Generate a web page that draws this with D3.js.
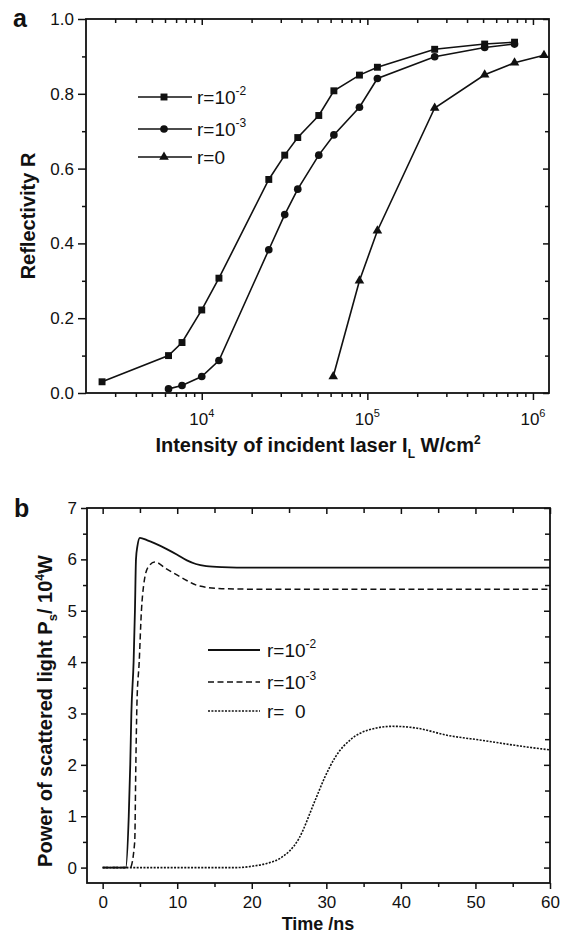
<!DOCTYPE html>
<html>
<head>
<meta charset="utf-8">
<script src="https://cdn.jsdelivr.net/npm/d3@7"></script>
<style>
	body { margin: 0; background: #fff; }
	svg text { font-family: "Liberation Sans", Arial, sans-serif; fill: #111; }
</style>
</head>
<body>
<svg id="fig" width="564" height="937"></svg>
<script>
// ---- panel a : reflectivity vs laser intensity ----
var intensity2 = [2500, 6300, 7600, 10000, 12700, 25400, 31700, 38000, 50900, 62800, 89600, 115000, 255000, 511000, 774000];
var refl2      = [0.03, 0.10, 0.135, 0.222, 0.307, 0.571, 0.636, 0.683, 0.742, 0.808, 0.85, 0.871, 0.919, 0.933, 0.938];
var intensity3 = [6300, 7600, 10000, 12700, 25400, 31700, 38000, 50900, 62800, 89600, 115000, 255000, 511000, 774000];
var refl3      = [0.011, 0.02, 0.044, 0.087, 0.383, 0.477, 0.545, 0.636, 0.69, 0.764, 0.841, 0.899, 0.924, 0.933];
var intensity0 = [62200, 89600, 115000, 255000, 511000, 774000, 1166000];
var refl0      = [0.044, 0.30, 0.434, 0.762, 0.851, 0.883, 0.903];
var decadeTicks = [1e4, 1e5, 1e6];
var decadeExp   = ["4", "5", "6"];
var reflTicks   = [0, 0.2, 0.4, 0.6, 0.8, 1.0];
var legendA     = [["r=10", "-2"], ["r=10", "-3"], ["r=0", ""]];

// ---- panel b : scattered power vs time ----
var time2  = [0, 3.1, 3.5, 3.7, 3.85, 4.15, 4.33, 4.47, 4.65, 5.0, 6, 7, 8.6, 10, 11.3, 12.5, 13.9, 16, 20, 30, 40, 50, 60];
var power2 = [0, 0, 1, 2, 3, 4, 5, 6, 6.25, 6.42, 6.37, 6.31, 6.2, 6.09, 5.98, 5.91, 5.87, 5.85, 5.84, 5.84, 5.84, 5.84, 5.84];
var time3  = [0, 3.7, 4.3, 4.45, 4.6, 4.9, 5.2, 5.5, 6.1, 7.0, 8.5, 10.4, 13.0, 16, 20, 30, 40, 50, 60];
var power3 = [0, 0, 0.5, 2, 3.2, 4, 5, 5.5, 5.85, 5.95, 5.82, 5.66, 5.48, 5.43, 5.42, 5.42, 5.42, 5.42, 5.42];
var time0  = [0, 10, 18, 20.2, 22, 23.8, 26.3, 28.5, 29.8, 31.2, 33.4, 35.7, 38.8, 41.9, 46.4, 50.8, 55.3, 60];
var power0 = [0, 0, 0, 0.03, 0.08, 0.18, 0.56, 1.31, 1.76, 2.15, 2.51, 2.68, 2.75, 2.72, 2.57, 2.48, 2.38, 2.29];
var timeTicks  = [0, 10, 20, 30, 40, 50, 60];
var powerTicks = [0, 1, 2, 3, 4, 5, 6, 7];
var legendB    = [["r=10", "-2"], ["r=10", "-3"], ["r=  0", ""]];

var svg = d3.select("#fig");
var ink = "#111";

// draws one axis and strips the domain line, frame is drawn as a rect
function axis(g, gen, size, values, fmt, pad) {
	g.call(gen.tickValues(values).tickSize(size).tickPadding(pad || 3).tickFormat(fmt || ""))
		.attr("font-size", 17)
		.attr("font-family", "'Liberation Sans', Arial, sans-serif");
	g.select(".domain").remove();
	g.selectAll(".tick line").attr("stroke", ink).attr("stroke-width", 1.5);
	return g;
}

// ================= panel a =================
var xA = d3.scaleLog().domain([2000, 1.25e6]).range([86, 549]);
var yA = d3.scaleLinear().domain([0, 1]).range([393, 19]);

var minorA = [];
[1e3, 1e4, 1e5].forEach(function (d) {
	for (var k = 2; k <= 9; k++) if (k * d > 2000) minorA.push(k * d);
});
var reflMinor = [0.1, 0.3, 0.5, 0.7, 0.9];

var gA = svg.append("g");
axis(gA.append("g").attr("transform", "translate(0,393)"), d3.axisBottom(xA), 7, decadeTicks);
axis(gA.append("g").attr("transform", "translate(0,393)"), d3.axisBottom(xA), 4, minorA);
axis(gA.append("g").attr("transform", "translate(0,19)"), d3.axisBottom(xA), 6, decadeTicks);
axis(gA.append("g").attr("transform", "translate(0,19)"), d3.axisBottom(xA), 4, minorA);
axis(gA.append("g").attr("transform", "translate(86,0)"), d3.axisLeft(yA), 8, reflTicks, d3.format(".1f"), 4);
axis(gA.append("g").attr("transform", "translate(86,0)"), d3.axisLeft(yA), 4, reflMinor);
axis(gA.append("g").attr("transform", "translate(549,0)"), d3.axisLeft(yA), 6, reflTicks);
axis(gA.append("g").attr("transform", "translate(549,0)"), d3.axisLeft(yA), 4, reflMinor);

// 10^n labels
decadeTicks.forEach(function (d, i) {
	var t = gA.append("text").attr("x", xA(d)).attr("y", 425)
		.attr("text-anchor", "middle").attr("font-size", 17);
	t.append("tspan").text("10");
	t.append("tspan").attr("font-size", 11).attr("dy", -8).text(decadeExp[i]);
});

gA.append("rect").attr("x", 86).attr("y", 19).attr("width", 463).attr("height", 374)
	.attr("fill", "none").attr("stroke", ink).attr("stroke-width", 1.8);

var lineA = d3.line().x(function (d) { return xA(d[0]); }).y(function (d) { return yA(d[1]); });
var seriesA = [
	{ x: intensity2, y: refl2, sym: d3.symbolSquare, size: 48 },
	{ x: intensity3, y: refl3, sym: d3.symbolCircle, size: 46 },
	{ x: intensity0, y: refl0, sym: d3.symbolTriangle, size: 40 }
];
seriesA.forEach(function (s) {
	var pts = d3.zip(s.x, s.y);
	gA.append("path").attr("d", lineA(pts)).attr("fill", "none")
		.attr("stroke", ink).attr("stroke-width", 1.6);
	gA.selectAll(null).data(pts).enter().append("path")
		.attr("d", d3.symbol().type(s.sym).size(s.size))
		.attr("transform", function (d) { return "translate(" + xA(d[0]) + "," + yA(d[1]) + ")"; })
		.attr("fill", ink);
});

// legend a
var rowsA = [97, 129, 157];
seriesA.forEach(function (s, i) {
	gA.append("line").attr("x1", 138).attr("x2", 192).attr("y1", rowsA[i]).attr("y2", rowsA[i])
		.attr("stroke", ink).attr("stroke-width", 1.6);
	gA.append("path").attr("d", d3.symbol().type(s.sym).size(s.size))
		.attr("transform", "translate(164," + rowsA[i] + ")").attr("fill", ink);
	var t = gA.append("text").attr("x", 197).attr("y", rowsA[i] + 7).attr("font-size", 19);
	t.append("tspan").text(legendA[i][0]);
	if (legendA[i][1]) t.append("tspan").attr("font-size", 12).attr("dy", -9).text(legendA[i][1]);
});

// titles a
var tx = gA.append("text").attr("x", 318).attr("y", 452).attr("text-anchor", "middle")
	.attr("font-size", 20).attr("font-weight", "bold");
tx.append("tspan").text("Intensity of incident laser I");
tx.append("tspan").attr("font-size", 12).attr("dy", 6).text("L");
tx.append("tspan").attr("dy", -6).text(" W/cm");
tx.append("tspan").attr("font-size", 12).attr("dy", -8).text("2");
gA.append("text").attr("transform", "translate(35,216) rotate(-90)").attr("text-anchor", "middle")
	.attr("font-size", 20).attr("font-weight", "bold").text("Reflectivity R");
gA.append("text").attr("x", 13).attr("y", 27).attr("font-size", 25).attr("font-weight", "bold").text("a");

// ================= panel b =================
var xB = d3.scaleLinear().domain([-2.1, 60]).range([87, 550]);
var yB = d3.scaleLinear().domain([-0.3, 7]).range([883, 508]);
var timeMinor  = [5, 15, 25, 35, 45, 55];
var powerMinor = [0.5, 1.5, 2.5, 3.5, 4.5, 5.5, 6.5];

var gB = svg.append("g");
axis(gB.append("g").attr("transform", "translate(0,883)"), d3.axisBottom(xB), 6, timeTicks, d3.format("d"), 7);
axis(gB.append("g").attr("transform", "translate(0,883)"), d3.axisBottom(xB), 4, timeMinor);
axis(gB.append("g").attr("transform", "translate(0,508)"), d3.axisBottom(xB), 6, timeTicks);
axis(gB.append("g").attr("transform", "translate(0,508)"), d3.axisBottom(xB), 5, timeMinor);
axis(gB.append("g").attr("transform", "translate(87,0)"), d3.axisLeft(yB), 6, powerTicks, d3.format("d"), 4);
axis(gB.append("g").attr("transform", "translate(87,0)"), d3.axisLeft(yB), 4, powerMinor);
axis(gB.append("g").attr("transform", "translate(550,0)"), d3.axisLeft(yB), 6, powerTicks);
axis(gB.append("g").attr("transform", "translate(550,0)"), d3.axisLeft(yB), 5, powerMinor);

gB.append("rect").attr("x", 87).attr("y", 508).attr("width", 463).attr("height", 375)
	.attr("fill", "none").attr("stroke", ink).attr("stroke-width", 1.8);

var lineB = d3.line().curve(d3.curveMonotoneX)
	.x(function (d) { return xB(d[0]); }).y(function (d) { return yB(d[1]); });
var seriesB = [
	{ x: time2, y: power2, dash: null, w: 1.8 },
	{ x: time3, y: power3, dash: "6,3.5", w: 1.5 },
	{ x: time0, y: power0, dash: "2,1.4", w: 1.6 }
];
seriesB.forEach(function (s) {
	gB.append("path").attr("d", lineB(d3.zip(s.x, s.y))).attr("fill", "none")
		.attr("stroke", ink).attr("stroke-width", s.w).attr("stroke-dasharray", s.dash);
});

// legend b
var rowsB = [650, 682, 711];
seriesB.forEach(function (s, i) {
	gB.append("line").attr("x1", 208).attr("x2", 260).attr("y1", rowsB[i]).attr("y2", rowsB[i])
		.attr("stroke", ink).attr("stroke-width", s.w).attr("stroke-dasharray", s.dash);
	var t = gB.append("text").attr("x", 267).attr("y", rowsB[i] + 7).attr("font-size", 19)
		.style("white-space", "pre");
	t.append("tspan").text(legendB[i][0]);
	if (legendB[i][1]) t.append("tspan").attr("font-size", 12).attr("dy", -9).text(legendB[i][1]);
});

// titles b
gB.append("text").attr("x", 318).attr("y", 930).attr("text-anchor", "middle")
	.attr("font-size", 18).attr("font-weight", "bold").text("Time /ns");
var ty = gB.append("text").attr("transform", "translate(52,711) rotate(-90)").attr("text-anchor", "middle")
	.attr("font-size", 20).attr("font-weight", "bold");
ty.append("tspan").text("Power of scattered light P");
ty.append("tspan").attr("font-size", 13).attr("dy", 5).text("s");
ty.append("tspan").attr("dy", -5).text("/ 10");
ty.append("tspan").attr("font-size", 12).attr("dy", -8).text("4");
ty.append("tspan").attr("dy", 8).text("W");
gB.append("text").attr("x", 14).attr("y", 517).attr("font-size", 25).attr("font-weight", "bold").text("b");
</script>
</body>
</html>
